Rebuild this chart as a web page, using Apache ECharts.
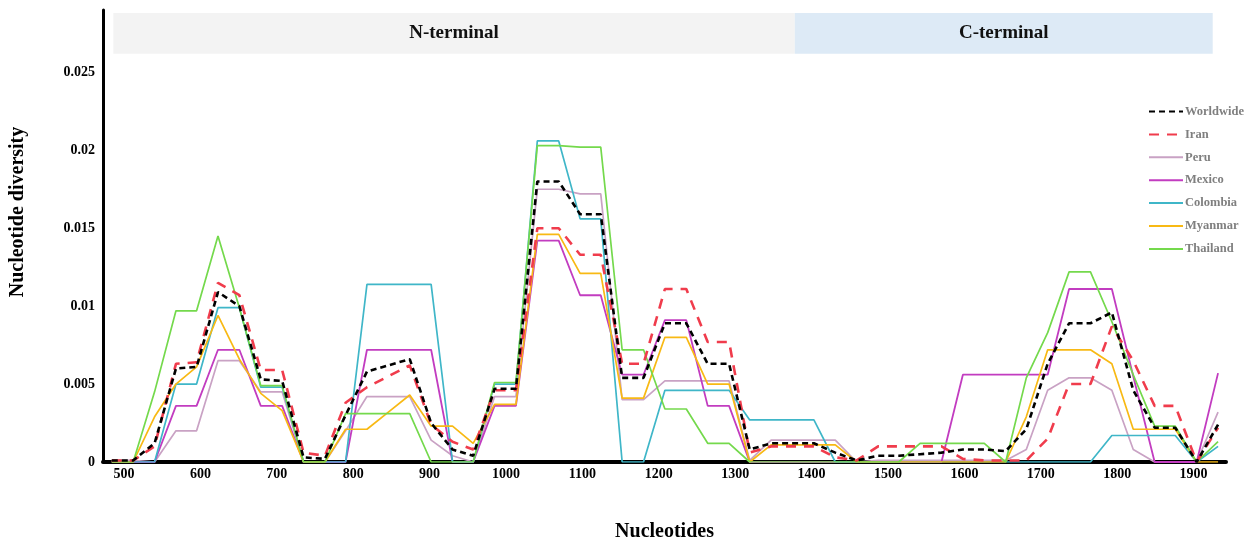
<!DOCTYPE html>
<html>
<head>
<meta charset="utf-8">
<title>Nucleotide diversity</title>
<script src="https://cdn.jsdelivr.net/npm/echarts@6/dist/echarts.min.js"></script>
<style>
  html, body { margin: 0; padding: 0; background: #fff; }
  #chart { width: 1256px; height: 540px; }
</style>
</head>
<body>
<div id="chart"></div>
<script>
// window midpoints (nucleotide position)
const positions = [484, 512, 540, 568, 595, 623, 651, 679, 707, 735, 763, 790, 818, 846, 874, 902, 930, 957,
  985, 1013, 1041, 1069, 1097, 1124, 1152, 1180, 1208, 1236, 1264, 1292, 1319, 1347, 1375, 1403, 1431, 1459,
  1487, 1514, 1542, 1570, 1598, 1626, 1654, 1681, 1709, 1737, 1765, 1793, 1821, 1849, 1876, 1904, 1932];

const worldwide = [0.0001, 0.0001, 0.0012, 0.0060, 0.0061, 0.0109, 0.0100, 0.0053, 0.0052, 0.0003, 0.0002, 0.0030,
  0.0058, 0.0062, 0.0066, 0.0025, 0.0008, 0.0004, 0.0047, 0.0047, 0.0180, 0.0180, 0.0159, 0.0159, 0.0054, 0.0054,
  0.0089, 0.0089, 0.0063, 0.0063, 0.0008, 0.0012, 0.0012, 0.0012, 0.0006, 0.0001, 0.0004, 0.0004, 0.0005, 0.0006,
  0.0008, 0.0008, 0.0007, 0.0021, 0.0063, 0.0089, 0.0089, 0.0096, 0.0046, 0.0022, 0.0022, 0, 0.0024];
const iran = [0.0001, 0.0001, 0.0010, 0.0063, 0.0064, 0.0115, 0.0107, 0.0059, 0.0059, 0.0006, 0.0004, 0.0038,
  0.0048, 0.0055, 0.0062, 0.0024, 0.0013, 0.0008, 0.0046, 0.0046, 0.0150, 0.0150, 0.0133, 0.0133, 0.0063, 0.0063,
  0.0111, 0.0111, 0.0077, 0.0077, 0.0006, 0.0010, 0.0010, 0.0010, 0.0003, 0.0001, 0.0010, 0.0010, 0.0010, 0.0010,
  0.0002, 0.0001, 0.0001, 0.0001, 0.0015, 0.0050, 0.0050, 0.0087, 0.0065, 0.0036, 0.0036, 0, 0.0022];
const peru = [0.0001, 0.0001, 0, 0.0020, 0.0020, 0.0065, 0.0065, 0.0045, 0.0045, 0, 0, 0.0020,
  0.0042, 0.0042, 0.0042, 0.0014, 0.0004, 0, 0.0042, 0.0042, 0.0175, 0.0175, 0.0172, 0.0172, 0.0040, 0.0040,
  0.0052, 0.0052, 0.0052, 0.0052, 0.0001, 0.0014, 0.0014, 0.0014, 0.0014, 0, 0.0001, 0.0001, 0.0001, 0.0001,
  0.0001, 0.0001, 0.0001, 0.0008, 0.0046, 0.0054, 0.0054, 0.0046, 0.0008, 0, 0, 0, 0.0032];
const mexico = [0, 0, 0, 0.0036, 0.0036, 0.0072, 0.0072, 0.0036, 0.0036, 0, 0, 0,
  0.0072, 0.0072, 0.0072, 0.0072, 0, 0, 0.0036, 0.0036, 0.0142, 0.0142, 0.0107, 0.0107, 0.0056, 0.0056,
  0.0091, 0.0091, 0.0036, 0.0036, 0, 0, 0, 0, 0, 0, 0, 0, 0, 0,
  0.0056, 0.0056, 0.0056, 0.0056, 0.0056, 0.0111, 0.0111, 0.0111, 0.0055, 0, 0, 0, 0.0057];
const colombia = [0, 0, 0, 0.0050, 0.0050, 0.0099, 0.0099, 0.0048, 0.0048, 0, 0, 0,
  0.0114, 0.0114, 0.0114, 0.0114, 0, 0, 0.0050, 0.0050, 0.0206, 0.0206, 0.0156, 0.0156, 0, 0,
  0.0046, 0.0046, 0.0046, 0.0046, 0.0027, 0.0027, 0.0027, 0.0027, 0, 0, 0, 0, 0, 0,
  0, 0, 0, 0, 0, 0, 0, 0.0017, 0.0017, 0.0017, 0.0017, 0, 0.0010];
const myanmar = [0, 0, 0.0029, 0.0050, 0.0061, 0.0094, 0.0066, 0.0044, 0.0033, 0, 0, 0.0021,
  0.0021, 0.0032, 0.0043, 0.0023, 0.0023, 0.0012, 0.0037, 0.0037, 0.0146, 0.0146, 0.0121, 0.0121, 0.0041, 0.0041,
  0.0080, 0.0080, 0.0050, 0.0050, 0, 0.0011, 0.0011, 0.0011, 0.0011, 0, 0, 0, 0, 0,
  0, 0, 0, 0.0029, 0.0072, 0.0072, 0.0072, 0.0063, 0.0021, 0.0021, 0.0021, 0, 0];
const thailand = [0, 0, 0.0045, 0.0097, 0.0097, 0.0145, 0.0099, 0.0049, 0.0049, 0, 0, 0.0031,
  0.0031, 0.0031, 0.0031, 0, 0, 0, 0.0051, 0.0051, 0.0203, 0.0203, 0.0202, 0.0202, 0.0072, 0.0072,
  0.0034, 0.0034, 0.0012, 0.0012, 0, 0, 0, 0, 0, 0, 0, 0, 0.0012, 0.0012,
  0.0012, 0.0012, 0, 0.0054, 0.0083, 0.0122, 0.0122, 0.0090, 0.0056, 0.0023, 0.0023, 0, 0.0013];

const xTicks = [500, 600, 700, 800, 900, 1000, 1100, 1200, 1300, 1400, 1500, 1600, 1700, 1800, 1900];
const yTicks = [0, 0.005, 0.01, 0.015, 0.02, 0.025];

// protein regions shown as bands above the curves: [name, start, end]
const regions = [['N-terminal', 486, 1378], ['C-terminal', 1378, 1925]];
const regionColors = ['#f3f3f3', '#ddeaf6'];

const font = '"Liberation Serif", "Times New Roman", serif';

const chart = echarts.init(document.getElementById('chart'));

function pts(vals) {
  return positions.map((p, i) => [p, vals[i]]);
}

function line(name, vals, color, width, dash, z) {
  return {
    name: name,
    type: 'line',
    data: pts(vals),
    symbol: 'none',
    z: z,
    lineStyle: { color: color, width: width, type: dash },
    itemStyle: { color: color }
  };
}

const series = [
  line('Worldwide', worldwide, '#000000', 2.6, [6, 4], 9),
  line('Iran', iran, '#f03c4c', 2.6, [10, 8], 8),
  line('Peru', peru, '#c9a2c4', 1.7, 'solid', 3),
  line('Mexico', mexico, '#c23cc0', 1.8, 'solid', 4),
  line('Colombia', colombia, '#3fb6c8', 1.7, 'solid', 5),
  line('Myanmar', myanmar, '#f8b914', 1.7, 'solid', 6),
  line('Thailand', thailand, '#74d94c', 1.7, 'solid', 7)
];

series[0].markArea = {
  silent: true,
  label: {
    position: 'inside',
    color: '#111',
    fontFamily: font,
    fontWeight: 'bold',
    fontSize: 19
  },
  data: regions.map((r, i) => [
    { name: r[0], xAxis: r[1], yAxis: 0.0262, itemStyle: { color: regionColors[i] } },
    { xAxis: r[2], yAxis: 0.0288 }
  ])
};

chart.setOption({
  animation: false,
  backgroundColor: '#fff',
  grid: { left: 103, right: 30, top: 10, bottom: 78, outerBoundsMode: 'none', containLabel: false },
  legend: {
    orient: 'vertical',
    left: 1143,
    top: 100,
    itemWidth: 34,
    itemHeight: 14,
    itemGap: 9.9,
    itemStyle: { opacity: 0 },
    textStyle: { fontFamily: font, fontWeight: 'bold', fontSize: 12.5, color: '#7f7f7f', padding: [0, 0, 0, -3] },
    data: series.map(s => s.name)
  },
  xAxis: {
    type: 'value',
    min: 472.5,
    max: 1942.4,
    name: 'Nucleotides',
    nameLocation: 'middle',
    nameGap: 60,
    nameTextStyle: { fontFamily: font, fontWeight: 'bold', fontSize: 20, color: '#000' },
    axisLine: { lineStyle: { color: '#000', width: 4 } },
    axisTick: { show: false },
    splitLine: { show: false },
    axisLabel: {
      customValues: xTicks,
      formatter: v => String(v),
      margin: 5,
      fontFamily: font,
      fontWeight: 'bold',
      fontSize: 14,
      color: '#000'
    }
  },
  yAxis: {
    type: 'value',
    min: 0,
    max: 0.029,
    name: 'Nucleotide diversity',
    nameLocation: 'middle',
    nameGap: 75,
    nameRotate: 90,
    nameTextStyle: { fontFamily: font, fontWeight: 'bold', fontSize: 20, color: '#000', padding: [0, 0, 0, 48] },
    axisLine: { show: true, lineStyle: { color: '#000', width: 3 } },
    axisTick: { show: false },
    splitLine: { show: false },
    axisLabel: {
      customValues: yTicks,
      formatter: v => String(v),
      margin: 8,
      fontFamily: font,
      fontWeight: 'bold',
      fontSize: 14,
      color: '#000'
    }
  },
  series: series
});
</script>
</body>
</html>
